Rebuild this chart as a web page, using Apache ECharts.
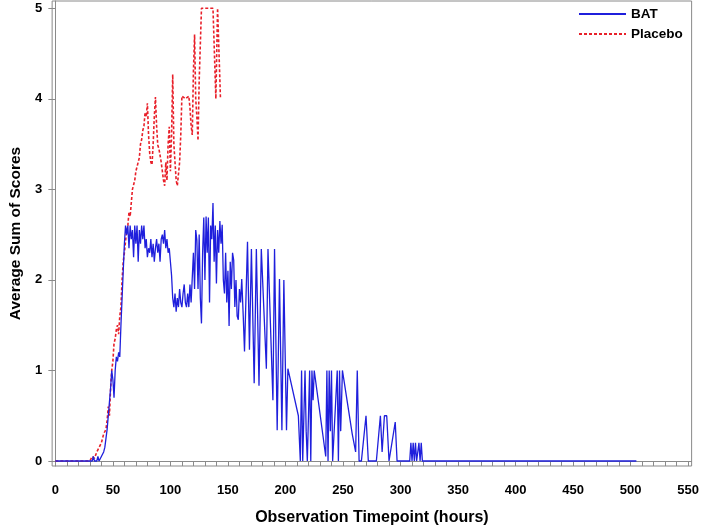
<!DOCTYPE html>
<html>
<head>
<meta charset="utf-8">
<script src="https://cdn.jsdelivr.net/npm/echarts@6/dist/echarts.min.js"></script>
<style>
html,body{margin:0;padding:0;background:#fff;}
#chart{width:702px;height:531px;}
</style>
</head>
<body>
<div id="chart"></div>
<script>
// ---- data ----
const seriesNames = ['BAT', 'Placebo'];
const xTickLabels = [0, 50, 100, 150, 200, 250, 300, 350, 400, 450, 500, 550];
const yTickLabels = [0, 1, 2, 3, 4, 5];

const batHours = [0, 32, 33, 34, 36, 37, 38, 40, 41, 42, 43, 44, 45, 46, 47, 48, 49, 50, 51, 52, 53, 54, 55, 56, 57, 58, 59, 60,
  61, 62, 63, 64, 65, 66, 67, 68, 69, 70, 71, 72, 73, 74, 75, 76, 77, 78, 79, 80, 81, 82, 83, 84, 85, 86, 87, 88, 89, 90,
  91, 92, 93, 94, 95, 96, 97, 98, 99, 100, 101, 102, 103, 104, 105, 106, 107, 108, 109, 110, 111, 112, 113, 114, 115, 116, 117, 118, 119, 120,
  121, 122, 123, 124, 125, 126, 127, 128, 129, 130, 131, 132, 133, 134, 135, 136, 137, 138, 139, 140, 141, 142, 143, 144, 145, 146, 147, 148, 149, 150,
  151, 152, 153, 154, 155, 156, 157, 158, 159, 160, 161, 162, 163.3, 164.4, 167, 168.7, 170.4, 172.8, 174.7, 177, 179, 183.4, 184.8, 189.1, 190.5, 192.8, 194.8, 196.9, 198.6, 200.9, 202.1, 211.2, 212.9,
  214, 215, 217, 218, 219, 221, 222, 223, 224, 225, 235, 236, 237, 238, 239, 240, 241, 245, 246, 247, 248, 249.5, 258, 261, 262.4, 264, 266, 270, 272, 279, 282.5, 284, 286, 288, 290, 295.4, 297,
  308, 309, 310, 311, 312, 313, 314, 316, 317, 318, 319, 320, 505];
const batScores = [0, 0, 0.05, 0, 0, 0.05, 0, 0.05, 0.03, 0.1, 0.15, 0.25, 0.35, 0.5, 0.65, 0.8, 1.0, 0.9, 0.7, 1.0, 1.15, 1.1, 1.2, 1.15, 1.5, 1.8, 2.1, 2.4,
  2.6, 2.5, 2.6, 2.35, 2.6, 2.45, 2.55, 2.25, 2.6, 2.4, 2.6, 2.2, 2.55, 2.4, 2.6, 2.45, 2.6, 2.35, 2.45, 2.25, 2.35, 2.3, 2.45, 2.25, 2.4, 2.2, 2.35, 2.45, 2.3, 2.4,
  2.2, 2.45, 2.5, 2.4, 2.55, 2.35, 2.45, 2.3, 2.35, 2.2, 2.05, 1.8, 1.7, 1.85, 1.65, 1.8, 1.7, 1.9, 1.75, 1.7, 1.85, 1.95, 1.75, 1.7, 1.85, 1.7, 1.95, 1.75, 1.74, 2.3,
  1.9, 2.55, 2.44, 1.9, 2.5, 1.8, 1.52, 2.3, 2.69, 2.0, 2.7, 2.3, 2.69, 1.75, 2.6, 2.45, 2.85, 2.2, 2.6, 1.96, 2.55, 2.3, 2.65, 2.4, 2.61, 2.0, 1.85, 2.3, 1.75, 2.1,
  1.49, 2.2, 1.9, 2.3, 2.22, 1.7, 2.0, 1.6, 1.56, 1.9, 1.75, 2.01, 1.6, 1.21, 2.42, 1.23, 2.34, 0.86, 2.34, 0.83, 2.34, 1.02, 2.34, 0.67, 2.34, 0.34, 2.01, 0.34, 2.0, 0.34, 1.02, 0.5, 0,
  1.0, 0, 1.0, 0.33, 0, 1.0, 0, 1.0, 0.67, 1.0, 0.05, 1.0, 0, 1.0, 0.33, 1.0, 0, 1.0, 0, 1.0, 0.33, 1.0, 0.3, 0.1, 1.0, 0, 0, 0.5, 0, 0, 0.5, 0.1, 0.5, 0.5, 0, 0.43, 0,
  0, 0.2, 0, 0.2, 0, 0.2, 0, 0.2, 0, 0.2, 0, 0, 0];

const placeboHours = [0, 30, 32, 34, 36, 38, 40, 42, 44, 45, 46, 47, 48, 49, 50, 51, 52, 53, 54, 55, 56, 57, 58, 59, 60,
  62, 63, 64, 65, 66, 67, 68, 69, 70, 71, 72, 73, 74, 75, 76, 77, 78, 79, 80, 81, 82, 83, 84, 85, 86, 87, 88, 89, 90,
  91, 92, 93, 94, 95, 96, 97, 98, 99, 100, 101, 102, 103, 104, 105, 106, 107, 108, 109, 110, 113, 116, 117, 118, 119, 120,
  121, 122, 123, 124, 125, 127, 137, 139.5, 141, 142.5, 143.5];
const placeboScores = [0, 0, 0.05, 0.03, 0.1, 0.15, 0.2, 0.3, 0.35, 0.45, 0.6, 0.5, 0.8, 1.0, 1.1, 1.3, 1.35, 1.45, 1.5, 1.4, 1.6, 1.7, 2.0, 2.2, 2.3,
  2.55, 2.6, 2.75, 2.7, 2.85, 3.0, 3.05, 3.1, 3.2, 3.2, 3.3, 3.35, 3.5, 3.55, 3.65, 3.7, 3.85, 3.8, 3.95, 3.6, 3.4, 3.3, 3.27, 3.5, 3.8, 4.02, 3.7, 3.49, 3.45,
  3.43, 3.3, 3.2, 3.1, 3.04, 3.3, 3.1, 3.5, 3.69, 3.2, 3.6, 4.27, 3.5, 3.3, 3.1, 3.04, 3.04, 3.3, 3.6, 4.03, 4.0, 4.03, 3.9, 3.7, 3.6, 4.3,
  4.71, 4.0, 3.8, 3.54, 4.2, 5.0, 5.0, 4.0, 5.0, 5.0, 4.0];

function pairs(xs, ys) { return xs.map((x, i) => [x, ys[i]]); }

const FONT = '"Liberation Sans", Arial, Helvetica, sans-serif';
const axisCol = '#8a8a8a';

const chart = echarts.init(document.getElementById('chart'), null, { renderer: 'canvas' });
chart.setOption({
  animation: false,
  backgroundColor: '#ffffff',
  grid: { left: 49, right: 8, top: 1, bottom: 60, show: true, borderColor: axisCol, borderWidth: 1, containLabel: false },
  legend: {
    orient: 'vertical', left: 578, top: 7, padding: 0, itemWidth: 47, itemHeight: 14, itemGap: 6,
    itemStyle: { opacity: 0 },
    textStyle: { fontFamily: FONT, fontWeight: 'bold', fontSize: 13.5, color: '#000' },
    data: seriesNames
  },
  xAxis: {
    type: 'value', min: -2.8, max: 553,
    name: 'Observation Timepoint (hours)', nameLocation: 'middle', nameGap: 44,
    nameTextStyle: { fontFamily: FONT, fontWeight: 'bold', fontSize: 16, color: '#000' },
    axisLine: { show: true, lineStyle: { color: axisCol } },
    axisTick: { show: true, length: 5, lineStyle: { color: axisCol },
      customValues: Array.from({ length: 56 }, (_, i) => i * 10) },
    axisLabel: { customValues: xTickLabels, margin: 18, fontFamily: FONT, fontWeight: 'bold', fontSize: 13, color: '#000' },
    splitLine: { show: false }
  },
  yAxis: {
    type: 'value', min: -0.055, max: 5.08,
    name: 'Average Sum of Scores', nameLocation: 'middle', nameGap: 28, nameRotate: 90,
    nameTextStyle: { fontFamily: FONT, fontWeight: 'bold', fontSize: 15.5, color: '#000' },
    axisLine: { show: true, lineStyle: { color: axisCol } },
    axisTick: { show: true, length: 7, lineStyle: { color: axisCol }, customValues: yTickLabels },
    axisLabel: { customValues: yTickLabels, margin: 10, fontFamily: FONT, fontWeight: 'bold', fontSize: 13, color: '#000' },
    splitLine: { show: false }
  },
  series: [
    {
      name: seriesNames[0], type: 'line', data: pairs(batHours, batScores),
      symbol: 'none', lineStyle: { color: '#1f1fdc', width: 1.3 }, itemStyle: { color: '#1f1fdc' }, z: 3
    },
    {
      name: seriesNames[1], type: 'line', data: pairs(placeboHours, placeboScores),
      symbol: 'none', lineStyle: { color: '#e8202a', width: 1.6, type: [3, 2] }, itemStyle: { color: '#e8202a' }, z: 2
    }
  ]
});
</script>
</body>
</html>
